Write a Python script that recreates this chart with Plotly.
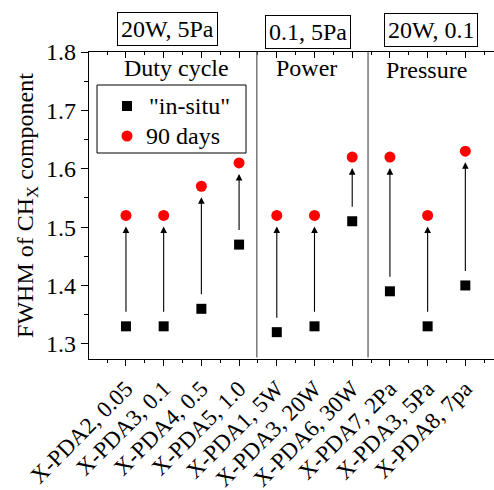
import plotly.graph_objects as go

labels = ["X-PDA2, 0.05", "X-PDA3, 0.1", "X-PDA4, 0.5", "X-PDA5, 1.0",
          "X-PDA1, 5W", "X-PDA3, 20W", "X-PDA6, 30W",
          "X-PDA7, 2Pa", "X-PDA3, 5Pa", "X-PDA8, 7pa"]
in_situ = [1.33, 1.33, 1.36, 1.47, 1.32, 1.33, 1.51, 1.39, 1.33, 1.40]
days90 = [1.52, 1.52, 1.57, 1.61, 1.52, 1.52, 1.62, 1.62, 1.52, 1.63]
series_names = ['"in-situ"', "90 days"]
groups = ["Duty cycle", "Power", "Pressure"]
group_boxes = ["20W, 5Pa", "0.1, 5Pa", "20W, 0.1"]

FONT = "Liberation Serif"
FS = 24
xpos = list(range(len(labels)))

fig = go.Figure()
fig.add_trace(go.Scatter(x=xpos, y=in_situ, mode="markers", name=series_names[0],
                         marker=dict(symbol="square", size=10, color="black")))
fig.add_trace(go.Scatter(x=xpos, y=days90, mode="markers", name=series_names[1],
                         marker=dict(symbol="circle", size=11, color="#ff0000")))
fig.add_trace(go.Scatter(x=xpos, y=in_situ, mode="none", xaxis="x2",
                         showlegend=False, hoverinfo="skip"))

xr = [-0.98, 9.76]
yr = [1.274, 1.8]

for i in xpos:
    fig.add_annotation(x=i, y=days90[i], ax=i, ay=in_situ[i], xref="x", yref="y",
                       axref="x", ayref="y", text="", showarrow=True,
                       arrowhead=2, arrowsize=1.2, arrowwidth=1.1, arrowcolor="black",
                       standoff=11, startstandoff=13)

for sx in [3.47, 6.42]:
    fig.add_shape(type="line", x0=sx, x1=sx, y0=0.005, y1=1, xref="x", yref="paper",
                  line=dict(color="#777777", width=1.5))

for gx, gy, t in [(1.35, 0.948, groups[0]), (4.8, 0.948, groups[1]), (7.98, 0.942, groups[2])]:
    fig.add_annotation(x=gx, y=gy, xref="x", yref="paper", yanchor="middle", text=t,
                       showarrow=False, font=dict(family=FONT, size=FS, color="black"))

for bx, by, t in [(1.09, 1.075, group_boxes[0]), (4.83, 1.064, group_boxes[1]), (8.1, 1.073, group_boxes[2])]:
    fig.add_annotation(x=bx, y=by, xref="x", yref="paper", yanchor="middle", text=t,
                       showarrow=False, font=dict(family=FONT, size=FS, color="black"),
                       bordercolor="black", borderwidth=1, borderpad=3, bgcolor="white")

# manual legend (box, symbols, texts)
fig.add_shape(type="rect", xref="paper", yref="paper", x0=0.0198, x1=0.3877, y0=0.671, y1=0.8925,
              line=dict(color="black", width=1), fillcolor="white", layer="above")
fig.add_shape(type="rect", xref="paper", yref="paper", xsizemode="pixel", ysizemode="pixel",
              xanchor=0.0938, yanchor=0.8241, x0=-5, x1=5, y0=-5, y1=5,
              line=dict(width=0), fillcolor="black", layer="above")
fig.add_shape(type="circle", xref="paper", yref="paper", xsizemode="pixel", ysizemode="pixel",
              xanchor=0.0938, yanchor=0.7264, x0=-5.5, x1=5.5, y0=-5.5, y1=5.5,
              line=dict(width=0), fillcolor="#ff0000", layer="above")
for lx, ly, t in [(0.143, 0.8241, series_names[0]), (0.136, 0.7264, series_names[1])]:
    fig.add_annotation(x=lx, y=ly, xref="paper", yref="paper", xanchor="left", yanchor="middle",
                       text=t, showarrow=False, font=dict(family=FONT, size=FS, color="black"))

minor_x = [v + 0.5 for v in range(-1, 10)]
fig.update_layout(
    width=494, height=490,
    margin=dict(l=89, r=0, t=52, b=131, autoexpand=False),
    paper_bgcolor="white", plot_bgcolor="white",
    font=dict(family=FONT, size=FS, color="black"),
    showlegend=False,
    xaxis=dict(range=xr, tickmode="array", tickvals=xpos, ticktext=labels,
               tickangle=-45, ticks="outside", ticklen=6, tickwidth=1.2, tickcolor="black",
               tickfont=dict(family=FONT, size=23),
               showline=True, linecolor="black", linewidth=1.3, mirror=True,
               showgrid=False, zeroline=False, automargin=False,
               minor=dict(tickvals=minor_x, ticks="outside", ticklen=3, tickcolor="black", showgrid=False)),
    xaxis2=dict(range=xr, overlaying="x", side="top", tickmode="array", tickvals=xpos,
                showticklabels=False, ticks="inside", ticklen=6, tickwidth=1.2, tickcolor="black",
                showline=False, showgrid=False, zeroline=False, automargin=False,
                minor=dict(tickvals=minor_x, ticks="inside", ticklen=3, tickcolor="black", showgrid=False)),
    yaxis=dict(range=yr, tickmode="array", tickvals=[1.3, 1.4, 1.5, 1.6, 1.7, 1.8],
               ticktext=["1.3", "1.4", "1.5", "1.6", "1.7", "1.8"],
               ticks="outside", ticklen=7, tickwidth=1.2, tickcolor="black",
               showline=True, linecolor="black", linewidth=1.3,
               showgrid=False, zeroline=False, automargin=False,
               minor=dict(tickvals=[1.35, 1.45, 1.55, 1.65, 1.75], ticks="outside", ticklen=4,
                          tickcolor="black", showgrid=False),
               title=dict(text="FWHM of CH<sub>X</sub> component", standoff=5,
                          font=dict(family=FONT, size=FS))),
)

fig.write_html("out.html")
